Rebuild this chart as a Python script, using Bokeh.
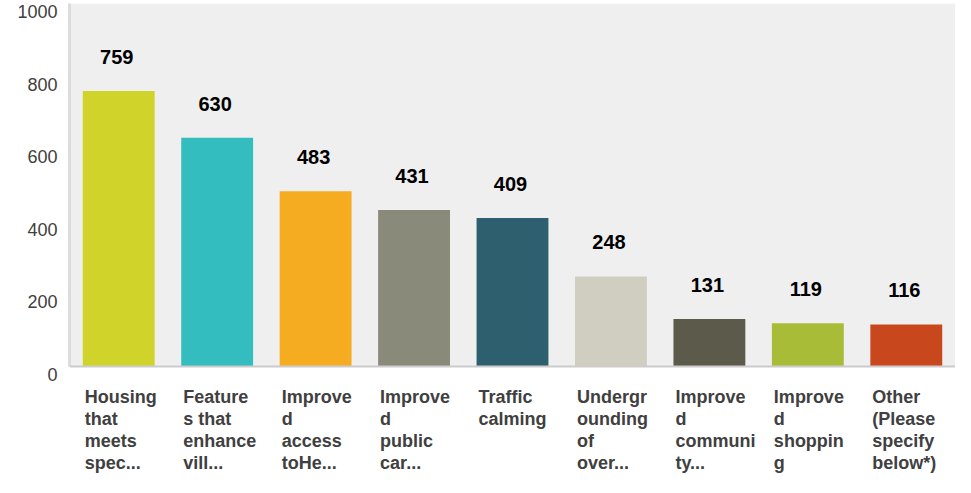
from bokeh.plotting import figure
from bokeh.models import (FixedTicker, SingleIntervalTicker, Range1d, ColumnDataSource,
                          LinearAxis, BoxAnnotation, Span)
from bokeh.core.properties import value
from bokeh.embed import file_html
from bokeh.resources import INLINE

categories = [
    "Housing\nthat\nmeets\nspec...",
    "Feature\ns that\nenhance\nvill...",
    "Improve\nd\naccess\ntoHe...",
    "Improve\nd\npublic\ncar...",
    "Traffic\ncalming",
    "Undergr\nounding\nof\nover...",
    "Improve\nd\ncommuni\nty...",
    "Improve\nd\nshoppin\ng",
    "Other\n(Please\nspecify\nbelow*)",
]
counts = [759, 630, 483, 431, 409, 248, 131, 119, 116]
colors = ["#d0d42a", "#33bdbf", "#f5ac21", "#8a8a7a", "#2d5f6e",
          "#d0cec0", "#5c5a4b", "#a9bc38", "#c8471c"]
y_ticks = [0, 200, 400, 600, 800, 1000]
y_max = 1000

W, H = 955, 477
top_pad, zero_px = 3, 366            # screen rows of y_max and of 0
px_per_unit = (zero_px - top_pad) / y_max
y_min = -(H - zero_px) / px_per_unit  # room below the axis for the labels

bar_w = 0.73
centers = [i + 0.5 for i in range(len(counts))]
src = ColumnDataSource(dict(x=centers, top=counts, color=colors,
                            label=[str(c) for c in counts],
                            left=[c - bar_w / 2 + 0.02 for c in centers],
                            zero=[0] * len(counts), cat=categories))

p = figure(width=W, height=H, output_backend="svg", toolbar_location=None,
           x_range=Range1d(0, len(counts)), y_range=Range1d(y_min, y_max),
           min_border_left=69, min_border_right=0, min_border_top=top_pad,
           min_border_bottom=0)
p.background_fill_color = "white"
p.border_fill_color = "white"
p.outline_line_color = None

# grey plotting area between 0 and max
p.add_layout(BoxAnnotation(bottom=0, top=y_max, fill_color="#efefef", fill_alpha=1,
                           line_color=None, level="underlay"))

p.xgrid.visible = False
p.ygrid.ticker = SingleIntervalTicker(interval=100)
p.ygrid.bounds = (0, y_max)
p.ygrid.grid_line_color = "white"
p.ygrid.grid_line_width = 2

p.vbar(x="x", top="top", width=bar_w, color="color", source=src, line_color=None)
p.text(x="x", y="top", text="label", source=src, y_offset=-34, x_offset=-2,
       text_align="center", text_baseline="middle",
       text_font=value("Liberation Sans"), text_font_style="bold",
       text_font_size="20px", text_color="#000000")

# category labels under the bars, left-aligned at each bar's left edge
p.text(x="left", y="zero", text="cat", source=src, y_offset=20,
       text_align="left", text_baseline="top",
       text_font=value("Liberation Sans"), text_font_style="bold",
       text_font_size="18px", text_line_height=1.1, text_color="#404040")

# baseline
p.add_layout(Span(location=0, dimension="width", line_color="#cccccc", line_width=2))
p.xaxis.visible = False

# y axis line (bounded to 0..max)
ya = p.yaxis[0]
ya.bounds = (0, y_max)
ya.ticker = FixedTicker(ticks=[])
ya.axis_line_color = "#dcdcdc"
ya.axis_line_width = 3
ya.major_tick_line_color = None
ya.minor_tick_line_color = None
ya.major_tick_out = 0
ya.major_tick_in = 0

# y tick labels, set ~8px below their gridline as in the original
shift = 8 / px_per_unit
lab_pos = [t - shift for t in y_ticks]
yl = LinearAxis(ticker=FixedTicker(ticks=lab_pos),
                major_label_overrides={lp: str(t) for lp, t in zip(lab_pos, y_ticks)},
                axis_line_color=None, major_tick_line_color=None,
                minor_tick_line_color=None, major_tick_out=0, major_tick_in=0,
                major_label_standoff=12,
                major_label_text_font="Liberation Sans",
                major_label_text_font_size="18px",
                major_label_text_color="#404040")
p.add_layout(yl, "left")

open("out.html", "w").write(file_html(p, INLINE))
